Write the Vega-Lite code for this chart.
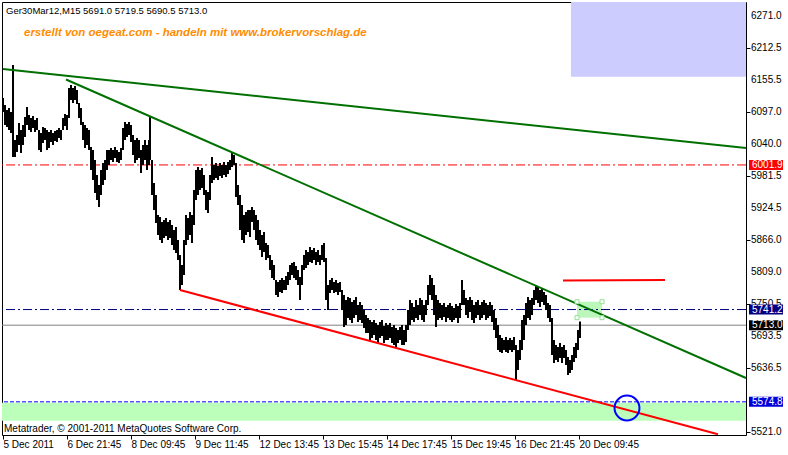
{
  "$schema": "https://vega.github.io/schema/vega-lite/v6.json",
  "width": 744,
  "height": 433,
  "autosize": {"type": "none"},
  "padding": {"left": 2, "top": 2, "right": 42, "bottom": 20},
  "background": "white",
  "config": {
    "view": {"stroke": "#000000", "strokeWidth": 1},
    "font": "Liberation Sans",
    "axis": {"labelFont": "Liberation Sans", "labelFontSize": 10, "labelColor": "#000000", "tickColor": "#000000", "domain": false, "grid": false, "title": null, "labelOverlap": false, "labelFlush": false}
  },
  "datasets": {
    "ohlc": [
      {"t":1,"h":6122.6,"l":6097.4},{"t":3,"h":6110.0,"l":6073.9},{"t":5,"h":6101.0,"l":6070.3},{"t":7,"h":6104.6,"l":6064.9},{"t":9,"h":6097.4,"l":6059.5},
      {"t":11,"h":6182.1,"l":6016.2},{"t":13,"h":6046.9,"l":6016.2},{"t":15,"h":6055.9,"l":6025.2},{"t":17,"h":6077.5,"l":6037.9},{"t":19,"h":6064.9,"l":6023.4},
      {"t":21,"h":6073.9,"l":6037.9},{"t":23,"h":6088.4,"l":6052.3},{"t":25,"h":6106.4,"l":6073.9},{"t":27,"h":6092.0,"l":6064.9},{"t":29,"h":6086.5,"l":6061.3},
      {"t":31,"h":6090.2,"l":6068.5},{"t":33,"h":6082.9,"l":6061.3},{"t":35,"h":6086.5,"l":6064.9},{"t":37,"h":6064.9,"l":6028.9},{"t":39,"h":6059.5,"l":6025.2},
      {"t":41,"h":6070.3,"l":6041.5},{"t":43,"h":6068.5,"l":6046.9},{"t":45,"h":6064.9,"l":6028.9},{"t":47,"h":6061.3,"l":6032.5},{"t":49,"h":6064.9,"l":6043.3},
      {"t":51,"h":6059.5,"l":6037.9},{"t":53,"h":6063.1,"l":6045.1},{"t":55,"h":6064.9,"l":6043.3},{"t":57,"h":6068.5,"l":6050.5},{"t":59,"h":6064.9,"l":6046.9},
      {"t":61,"h":6086.5,"l":6064.9},{"t":63,"h":6093.8,"l":6072.1},{"t":65,"h":6092.0,"l":6064.9},{"t":67,"h":6140.6,"l":6086.5},{"t":69,"h":6146.0,"l":6119.0},
      {"t":71,"h":6140.6,"l":6113.6},{"t":73,"h":6144.2,"l":6119.0},{"t":75,"h":6137.0,"l":6111.8},{"t":77,"h":6113.6,"l":6086.5},{"t":79,"h":6104.6,"l":6073.9},
      {"t":81,"h":6079.3,"l":6046.9},{"t":83,"h":6073.9,"l":6032.5},{"t":85,"h":6068.5,"l":6037.9},{"t":87,"h":6064.9,"l":6028.9},{"t":89,"h":6034.3,"l":5992.8},
      {"t":91,"h":6028.9,"l":5974.8},{"t":93,"h":6010.8,"l":5951.3},{"t":95,"h":5983.8,"l":5938.7},{"t":97,"h":5965.8,"l":5926.1},{"t":99,"h":5992.8,"l":5947.7},
      {"t":101,"h":6005.4,"l":5965.8},{"t":103,"h":6010.8,"l":5974.8},{"t":105,"h":6028.9,"l":5992.8},{"t":107,"h":6028.9,"l":6001.8},{"t":109,"h":6032.5,"l":6010.8},
      {"t":111,"h":6028.9,"l":6007.2},{"t":113,"h":6034.3,"l":6014.4},{"t":115,"h":6028.9,"l":6007.2},{"t":117,"h":6025.2,"l":6005.4},{"t":119,"h":6032.5,"l":6010.8},
      {"t":121,"h":6068.5,"l":6028.9},{"t":123,"h":6079.3,"l":6046.9},{"t":125,"h":6075.7,"l":6052.3},{"t":127,"h":6079.3,"l":6055.9},{"t":129,"h":6073.9,"l":6043.3},
      {"t":131,"h":6055.9,"l":6019.9},{"t":133,"h":6046.9,"l":6005.4},{"t":135,"h":6050.5,"l":6010.8},{"t":137,"h":6046.9,"l":6014.4},{"t":139,"h":6028.9,"l":5987.4},
      {"t":141,"h":6037.9,"l":6001.8},{"t":143,"h":6046.9,"l":6010.8},{"t":145,"h":6037.9,"l":5992.8},{"t":147,"h":6046.9,"l":6001.8},{"t":148,"h":6088.4,"l":6010.8},
      {"t":150,"h":6010.8,"l":5947.7},{"t":152,"h":5969.4,"l":5920.7},{"t":154,"h":5947.7,"l":5897.2},{"t":156,"h":5911.7,"l":5875.6},{"t":158,"h":5908.0,"l":5866.6},
      {"t":160,"h":5899.0,"l":5861.2},{"t":162,"h":5902.6,"l":5870.2},{"t":164,"h":5906.2,"l":5873.8},{"t":166,"h":5899.0,"l":5866.6},{"t":168,"h":5902.6,"l":5870.2},
      {"t":170,"h":5893.6,"l":5857.6},{"t":172,"h":5884.6,"l":5848.6},{"t":174,"h":5890.0,"l":5843.1},{"t":176,"h":5866.6,"l":5830.5},{"t":178,"h":5839.5,"l":5776.4},
      {"t":180,"h":5821.5,"l":5785.4},{"t":182,"h":5866.6,"l":5803.5},{"t":184,"h":5911.7,"l":5857.6},{"t":186,"h":5906.2,"l":5866.6},{"t":188,"h":5917.1,"l":5875.6},
      {"t":190,"h":5911.7,"l":5861.2},{"t":192,"h":5956.7,"l":5893.6},{"t":194,"h":5992.8,"l":5938.7},{"t":196,"h":5998.2,"l":5947.7},{"t":198,"h":5992.8,"l":5956.7},
      {"t":200,"h":5996.4,"l":5960.3},{"t":202,"h":5983.8,"l":5947.7},{"t":204,"h":5956.7,"l":5920.7},{"t":206,"h":5953.1,"l":5915.3},{"t":208,"h":5983.8,"l":5938.7},
      {"t":210,"h":6016.2,"l":5969.4},{"t":212,"h":6001.8,"l":5974.8},{"t":214,"h":6005.4,"l":5978.4},{"t":216,"h":6000.0,"l":5974.8},{"t":218,"h":6005.4,"l":5982.0},
      {"t":220,"h":6001.8,"l":5978.4},{"t":222,"h":6007.2,"l":5983.8},{"t":224,"h":6001.8,"l":5980.2},{"t":226,"h":6007.2,"l":5985.6},{"t":228,"h":6010.8,"l":5992.8},
      {"t":230,"h":6023.4,"l":5998.2},{"t":232,"h":6019.9,"l":6001.8},{"t":234,"h":6005.4,"l":5944.1},{"t":236,"h":5965.8,"l":5929.7},{"t":238,"h":5947.7,"l":5884.6},
      {"t":240,"h":5929.7,"l":5866.6},{"t":242,"h":5911.7,"l":5861.2},{"t":244,"h":5917.1,"l":5875.6},{"t":246,"h":5920.7,"l":5881.0},{"t":248,"h":5920.7,"l":5872.0},
      {"t":250,"h":5926.1,"l":5899.0},{"t":252,"h":5920.7,"l":5884.6},{"t":254,"h":5911.7,"l":5866.6},{"t":256,"h":5902.6,"l":5857.6},{"t":258,"h":5884.6,"l":5848.6},
      {"t":260,"h":5875.6,"l":5835.9},{"t":262,"h":5881.0,"l":5844.9},{"t":264,"h":5861.2,"l":5830.5},{"t":266,"h":5857.6,"l":5834.1},{"t":268,"h":5839.5,"l":5812.5},
      {"t":270,"h":5830.5,"l":5798.1},{"t":272,"h":5821.5,"l":5794.5},{"t":274,"h":5794.5,"l":5767.4},{"t":276,"h":5790.9,"l":5763.8},{"t":278,"h":5794.5,"l":5772.8},
      {"t":280,"h":5798.1,"l":5771.0},{"t":282,"h":5794.5,"l":5776.4},{"t":284,"h":5801.7,"l":5776.4},{"t":286,"h":5808.9,"l":5785.4},{"t":288,"h":5821.5,"l":5794.5},
      {"t":290,"h":5825.1,"l":5803.5},{"t":292,"h":5826.9,"l":5798.1},{"t":294,"h":5819.7,"l":5794.5},{"t":296,"h":5812.5,"l":5785.4},{"t":298,"h":5799.9,"l":5758.4},
      {"t":300,"h":5821.5,"l":5785.4},{"t":302,"h":5839.5,"l":5812.5},{"t":304,"h":5848.6,"l":5816.1},{"t":306,"h":5844.9,"l":5821.5},{"t":308,"h":5853.9,"l":5826.9},
      {"t":310,"h":5848.6,"l":5825.1},{"t":312,"h":5852.1,"l":5830.5},{"t":314,"h":5844.9,"l":5821.5},{"t":316,"h":5848.6,"l":5826.9},{"t":318,"h":5839.5,"l":5821.5},
      {"t":320,"h":5857.6,"l":5830.5},{"t":322,"h":5861.2,"l":5826.9},{"t":324,"h":5834.1,"l":5758.4},{"t":326,"h":5785.4,"l":5740.4},{"t":328,"h":5794.5,"l":5771.0},
      {"t":330,"h":5798.1,"l":5776.4},{"t":332,"h":5790.9,"l":5771.0},{"t":334,"h":5794.5,"l":5772.8},{"t":336,"h":5789.1,"l":5767.4},{"t":338,"h":5790.9,"l":5772.8},
      {"t":340,"h":5776.4,"l":5740.4},{"t":342,"h":5767.4,"l":5709.7},{"t":344,"h":5758.4,"l":5713.3},{"t":346,"h":5763.8,"l":5726.0},{"t":348,"h":5762.0,"l":5722.3},
      {"t":350,"h":5754.8,"l":5716.9},{"t":352,"h":5758.4,"l":5726.0},{"t":354,"h":5763.8,"l":5731.4},{"t":356,"h":5749.4,"l":5718.7},{"t":358,"h":5754.8,"l":5722.3},
      {"t":360,"h":5749.4,"l":5716.9},{"t":362,"h":5740.4,"l":5707.9},{"t":364,"h":5731.4,"l":5698.9},{"t":366,"h":5726.0,"l":5698.9},{"t":368,"h":5722.3,"l":5686.3},
      {"t":370,"h":5718.7,"l":5689.9},{"t":372,"h":5722.3,"l":5695.3},{"t":374,"h":5716.9,"l":5686.3},{"t":376,"h":5713.3,"l":5680.9},{"t":378,"h":5718.7,"l":5689.9},
      {"t":380,"h":5722.3,"l":5693.5},{"t":382,"h":5711.5,"l":5680.9},{"t":384,"h":5716.9,"l":5686.3},{"t":386,"h":5713.3,"l":5686.3},{"t":388,"h":5716.9,"l":5689.9},
      {"t":390,"h":5709.7,"l":5680.9},{"t":392,"h":5713.3,"l":5677.3},{"t":394,"h":5707.9,"l":5673.7},{"t":396,"h":5704.3,"l":5680.9},{"t":398,"h":5709.7,"l":5686.3},
      {"t":400,"h":5713.3,"l":5677.3},{"t":402,"h":5704.3,"l":5677.3},{"t":404,"h":5713.3,"l":5682.7},{"t":406,"h":5740.4,"l":5704.3},{"t":408,"h":5758.4,"l":5713.3},
      {"t":410,"h":5753.0,"l":5722.3},{"t":412,"h":5745.8,"l":5718.7},{"t":414,"h":5758.4,"l":5726.0},{"t":416,"h":5749.4,"l":5722.3},{"t":418,"h":5762.0,"l":5731.4},
      {"t":420,"h":5758.4,"l":5722.3},{"t":422,"h":5749.4,"l":5718.7},{"t":424,"h":5758.4,"l":5731.4},{"t":426,"h":5785.4,"l":5749.4},{"t":428,"h":5803.5,"l":5767.4},
      {"t":430,"h":5798.1,"l":5758.4},{"t":432,"h":5785.4,"l":5731.4},{"t":434,"h":5767.4,"l":5709.7},{"t":436,"h":5758.4,"l":5722.3},{"t":438,"h":5753.0,"l":5726.0},
      {"t":440,"h":5749.4,"l":5722.3},{"t":442,"h":5753.0,"l":5727.8},{"t":444,"h":5745.8,"l":5718.7},{"t":446,"h":5749.4,"l":5726.0},{"t":448,"h":5753.0,"l":5722.3},
      {"t":450,"h":5747.6,"l":5718.7},{"t":452,"h":5744.0,"l":5722.3},{"t":454,"h":5751.2,"l":5726.0},{"t":456,"h":5747.6,"l":5716.9},{"t":458,"h":5753.0,"l":5726.0},
      {"t":460,"h":5794.5,"l":5749.4},{"t":462,"h":5776.4,"l":5749.4},{"t":464,"h":5762.0,"l":5731.4},{"t":466,"h":5758.4,"l":5726.0},{"t":468,"h":5763.8,"l":5736.8},
      {"t":470,"h":5758.4,"l":5722.3},{"t":472,"h":5749.4,"l":5716.9},{"t":474,"h":5754.8,"l":5726.0},{"t":476,"h":5758.4,"l":5731.4},{"t":478,"h":5749.4,"l":5722.3},
      {"t":480,"h":5754.8,"l":5726.0},{"t":482,"h":5758.4,"l":5731.4},{"t":484,"h":5753.0,"l":5722.3},{"t":486,"h":5749.4,"l":5726.0},{"t":488,"h":5754.8,"l":5729.6},
      {"t":490,"h":5749.4,"l":5718.7},{"t":492,"h":5740.4,"l":5704.3},{"t":494,"h":5726.0,"l":5689.9},{"t":496,"h":5713.3,"l":5668.3},{"t":498,"h":5695.3,"l":5664.7},
      {"t":500,"h":5689.9,"l":5662.9},{"t":502,"h":5686.3,"l":5668.3},{"t":504,"h":5691.7,"l":5664.7},{"t":506,"h":5686.3,"l":5662.9},{"t":508,"h":5689.9,"l":5668.3},
      {"t":510,"h":5686.3,"l":5664.7},{"t":512,"h":5691.7,"l":5668.3},{"t":514,"h":5677.3,"l":5614.2},{"t":516,"h":5668.3,"l":5632.2},{"t":518,"h":5686.3,"l":5650.2},
      {"t":520,"h":5722.3,"l":5668.3},{"t":522,"h":5731.4,"l":5686.3},{"t":524,"h":5753.0,"l":5713.3},{"t":526,"h":5763.8,"l":5726.0},{"t":528,"h":5758.4,"l":5722.3},
      {"t":530,"h":5762.0,"l":5731.4},{"t":532,"h":5776.4,"l":5749.4},{"t":534,"h":5785.4,"l":5758.4},{"t":536,"h":5781.8,"l":5753.0},{"t":538,"h":5776.4,"l":5745.8},
      {"t":540,"h":5780.0,"l":5754.8},{"t":542,"h":5772.8,"l":5749.4},{"t":544,"h":5767.4,"l":5740.4},{"t":546,"h":5753.0,"l":5726.0},{"t":548,"h":5749.4,"l":5718.7},
      {"t":550,"h":5726.0,"l":5659.2},{"t":552,"h":5686.3,"l":5644.8},{"t":554,"h":5677.3,"l":5650.2},{"t":556,"h":5673.7,"l":5646.6},{"t":558,"h":5680.9,"l":5653.8},
      {"t":560,"h":5673.7,"l":5644.8},{"t":562,"h":5677.3,"l":5653.8},{"t":564,"h":5668.3,"l":5641.2},{"t":566,"h":5655.6,"l":5623.2},{"t":568,"h":5650.2,"l":5626.8},
      {"t":570,"h":5659.2,"l":5632.2},{"t":572,"h":5673.7,"l":5646.6},{"t":574,"h":5680.9,"l":5653.8},{"t":576,"h":5704.3,"l":5668.3},{"t":578,"h":5719.5,"l":5689.9}
    ],
    "zones": [
      {"kind":"bluebox","t1":569,"t2":744,"p1":6161.0,"p2":6295.7},
      {"kind":"greenband","t1":0,"t2":744,"p1":5540.8,"p2":5573.3},
      {"kind":"greenbox","t1":575,"t2":600,"p1":5726.5,"p2":5755.3}
    ],
    "levels": [
      {"kind":"red","p":6001.9},
      {"kind":"navy","p":5741.2},
      {"kind":"gray","p":5713.0},
      {"kind":"blue","p":5574.8}
    ],
    "trends": [
      {"kind":"green","t1":1,"p1":6174.9,"t2":744,"p2":6032.5},
      {"kind":"green","t1":64,"p1":6156.0,"t2":744,"p2":5617.8},
      {"kind":"red","t1":178,"p1":5776.4,"t2":716,"p2":5516.4},
      {"kind":"red","t1":561,"p1":5793.6,"t2":663,"p2":5794.5}
    ],
    "corners": [
      {"t":575,"p":5755.3},{"t":600,"p":5755.3},{"t":575,"p":5726.5},{"t":600,"p":5726.5}
    ],
    "circle": [{"t":625,"p":5563.7}],
    "yticks": [
      {"p":6271.0},{"p":6212.5},{"p":6155.5},{"p":6097.0},{"p":6040.0},{"p":5981.5},{"p":5924.5},
      {"p":5866.0},{"p":5809.0},{"p":5750.5},{"p":5693.5},{"p":5636.5},{"p":5521.0}
    ],
    "tags": [
      {"kind":"red","p":6001.9,"txt":"6001.9"},
      {"kind":"navy","p":5741.2,"txt":"5741.2"},
      {"kind":"gray","p":5713.0,"txt":"5713.0"},
      {"kind":"blue","p":5574.8,"txt":"5574.8"}
    ],
    "notes": [
      {"kind":"title","t":4,"p":6274.1,"txt":"Ger30Mar12,M15  5691.0 5719.5 5690.5 5713.0"},
      {"kind":"credit","t":22,"p":6234.4,"txt":"erstellt von oegeat.com - handeln mit www.brokervorschlag.de"},
      {"kind":"footer","t":2,"p":5521.3,"txt":"Metatrader, © 2001-2011 MetaQuotes Software Corp."}
    ]
  },
  "layer": [
    {
      "data": {"name": "zones"},
      "mark": {"type": "rect"},
      "encoding": {
        "x": {"field": "t1", "type": "quantitative", "scale": {"domain": [0, 744], "nice": false, "zero": false},
          "axis": {"values": [1,65,129,193,257,321,385,449,513,577], "orient": "bottom", "tickSize": 4, "labelPadding": 0, "labelAlign": "left", "labelBaseline": "top", "labelOverlap": false, "labelFlush": false,
            "labelExpr": "['5 Dec 2011','6 Dec 21:45','8 Dec 09:45','9 Dec 11:45','12 Dec 13:45','13 Dec 15:45','14 Dec 17:45','15 Dec 19:45','16 Dec 21:45','20 Dec 09:45'][round((datum.value-1)/64)]"}},
        "x2": {"field": "t2"},
        "y": {"field": "p1", "type": "quantitative", "scale": {"domain": [5515.0, 6295.7], "nice": false, "zero": false},
          "axis": {"orient": "right", "values": [6271.0,6212.5,6155.5,6097.0,6040.0,5981.5,5924.5,5866.0,5809.0,5750.5,5693.5,5636.5,5579.0,5521.0], "tickSize": 4, "labels": false}},
        "y2": {"field": "p2"},
        "color": {"field": "kind", "type": "nominal", "legend": null,
          "scale": {"domain": ["bluebox","greenband","greenbox"], "range": ["#ccccff","#bbffbb","#bbf7bb"]}}
      }
    },
    {
      "data": {"name": "levels"},
      "mark": {"type": "rule", "strokeWidth": 1},
      "encoding": {
        "y": {"field": "p", "type": "quantitative"},
        "color": {"field": "kind", "type": "nominal", "legend": null,
          "scale": {"domain": ["red","navy","gray","blue"], "range": ["#ff0000","#000080","#808080","#0000ff"]}},
        "strokeDash": {"field": "kind", "type": "nominal", "legend": null,
          "scale": {"domain": ["red","navy","gray","blue"], "range": [[9,3,2,3],[9,3,2,3],[1,0],[4,2]]}}
      }
    },
    {
      "data": {"name": "ohlc"},
      "mark": {"type": "rule", "color": "#000000", "strokeWidth": 2},
      "encoding": {
        "x": {"field": "t", "type": "quantitative"},
        "y": {"field": "l", "type": "quantitative"},
        "y2": {"field": "h"}
      }
    },
    {
      "data": {"name": "trends"},
      "mark": {"type": "rule", "strokeWidth": 2},
      "encoding": {
        "x": {"field": "t1", "type": "quantitative"},
        "x2": {"field": "t2"},
        "y": {"field": "p1", "type": "quantitative"},
        "y2": {"field": "p2"},
        "color": {"field": "kind", "type": "nominal", "legend": null,
          "scale": {"domain": ["green","red"], "range": ["#007000","#ff0000"]}}
      }
    },
    {
      "data": {"name": "corners"},
      "mark": {"type": "point", "shape": "square", "size": 16, "filled": false, "stroke": "#90e090", "fill": "#ffffff", "fillOpacity": 1, "strokeWidth": 1},
      "encoding": {
        "x": {"field": "t", "type": "quantitative"},
        "y": {"field": "p", "type": "quantitative"}
      }
    },
    {
      "data": {"name": "circle"},
      "mark": {"type": "point", "shape": "circle", "size": 620, "filled": false, "stroke": "#0000ff", "strokeWidth": 2, "opacity": 1},
      "encoding": {
        "x": {"field": "t", "type": "quantitative"},
        "y": {"field": "p", "type": "quantitative"}
      }
    },
    {
      "data": {"name": "yticks"},
      "mark": {"type": "text", "clip": false, "align": "left", "baseline": "middle", "color": "#000000", "fontSize": 10, "font": "Liberation Sans", "dx": 3},
      "encoding": {
        "x": {"datum": 746},
        "y": {"field": "p", "type": "quantitative"},
        "text": {"field": "p", "type": "quantitative", "format": ".1f"}
      }
    },
    {
      "data": {"name": "tags"},
      "mark": {"type": "rect", "clip": false, "yOffset": -5, "y2Offset": 5},
      "encoding": {
        "x": {"datum": 747},
        "x2": {"datum": 781},
        "y": {"field": "p", "type": "quantitative"},
        "y2": {"field": "p"},
        "color": {"field": "kind", "type": "nominal", "legend": null,
          "scale": {"domain": ["red","navy","gray","blue"], "range": ["#ff0000","#000080","#000000","#0000dd"]}}
      }
    },
    {
      "data": {"name": "tags"},
      "mark": {"type": "text", "clip": false, "align": "left", "baseline": "middle", "color": "#ffffff", "fontSize": 10, "font": "Liberation Sans", "dx": 3},
      "encoding": {
        "x": {"datum": 747},
        "y": {"field": "p", "type": "quantitative"},
        "text": {"field": "txt"}
      }
    },
    {
      "data": {"name": "notes"},
      "transform": [{"filter": "datum.kind == 'title'"}],
      "mark": {"type": "text", "align": "left", "baseline": "alphabetic", "color": "#000000", "fontSize": 9.5, "font": "Liberation Sans"},
      "encoding": {
        "x": {"field": "t", "type": "quantitative"},
        "y": {"field": "p", "type": "quantitative"},
        "text": {"field": "txt"}
      }
    },
    {
      "data": {"name": "notes"},
      "transform": [{"filter": "datum.kind == 'credit'"}],
      "mark": {"type": "text", "align": "left", "baseline": "alphabetic", "color": "#ff8c00", "fontSize": 11.5, "font": "Liberation Sans", "fontWeight": "bold", "fontStyle": "italic"},
      "encoding": {
        "x": {"field": "t", "type": "quantitative"},
        "y": {"field": "p", "type": "quantitative"},
        "text": {"field": "txt"}
      }
    },
    {
      "data": {"name": "notes"},
      "transform": [{"filter": "datum.kind == 'footer'"}],
      "mark": {"type": "text", "align": "left", "baseline": "alphabetic", "color": "#000000", "fontSize": 10, "font": "Liberation Sans"},
      "encoding": {
        "x": {"field": "t", "type": "quantitative"},
        "y": {"field": "p", "type": "quantitative"},
        "text": {"field": "txt"}
      }
    }
  ],
  "resolve": {"scale": {"color": "independent", "strokeDash": "independent"}}
}
